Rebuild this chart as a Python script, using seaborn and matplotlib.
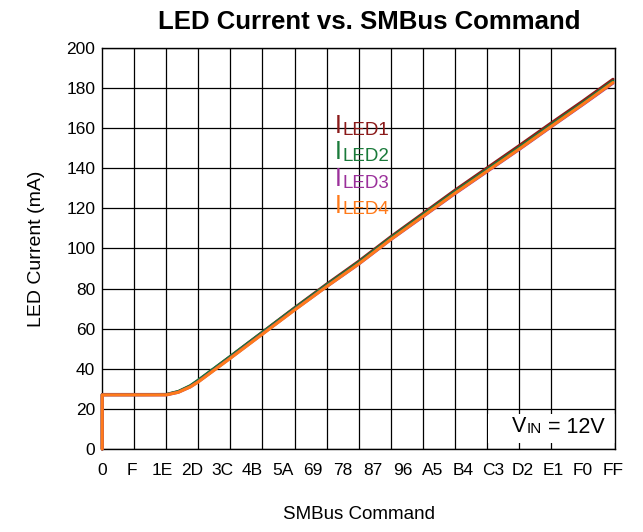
import matplotlib
matplotlib.use("Agg")
import matplotlib.pyplot as plt
from matplotlib.patches import Rectangle
import seaborn as sns
import pandas as pd

# SMBus command (decimal) and LED current (mA)
command = [0, 0, 16, 32, 38, 44, 48, 64, 80, 96, 112, 128, 144, 160, 176, 192, 208, 224, 240, 255]
iled1 = [0, 27.2, 27.2, 27.2, 28.6, 31.4, 34.2, 46.2, 58.3, 70.4, 82.2, 93.6, 105.8, 117.4, 129, 140.1, 151.2, 162.5, 173.6, 184.4]
iled2 = [0, 27.1, 27.1, 27.2, 28.7, 31.6, 34.4, 46.2, 58.2, 70.2, 81.8, 93.1, 105.3, 116.8, 128.3, 139.3, 150.3, 161.6, 172.7, 183.5]
iled3 = [0, 27, 27, 27, 28.3, 31, 33.6, 45.4, 57.4, 69.4, 81, 92.2, 104.4, 115.8, 127.3, 138.3, 149.3, 160.6, 171.8, 182.5]
iled4 = [0, 27, 27, 27, 28.3, 31, 33.5, 45.3, 57.3, 69.3, 81, 92.3, 104.5, 116, 127.5, 138.5, 149.5, 160.8, 172, 182.8]

series = ["ILED1", "ILED2", "ILED3", "ILED4"]
colors = ["#8b1a1a", "#1a7a3a", "#9b309b", "#ff7a1a"]
label_x = 116
label_y = [157.6, 144.5, 131.2, 117.9]

tick_vals = list(range(0, 256, 15))
tick_labels = ["0", "F", "1E", "2D", "3C", "4B", "5A", "69", "78", "87",
               "96", "A5", "B4", "C3", "D2", "E1", "F0", "FF"]

rows = []
for name, vals in zip(series, [iled1, iled2, iled3, iled4]):
    for x, y in zip(command, vals):
        rows.append({"cmd": x, "current": y, "led": name})
df = pd.DataFrame(rows)

sns.set_style("white")
plt.rcParams["font.family"] = ["Liberation Sans", "DejaVu Sans"]
plt.rcParams["text.color"] = "black"
plt.rcParams["axes.labelcolor"] = "black"
plt.rcParams["xtick.color"] = "black"
plt.rcParams["ytick.color"] = "black"

fig, ax = plt.subplots(figsize=(6.43, 5.32), dpi=100)
fig.subplots_adjust(left=0.159, right=0.9565, top=0.9098, bottom=0.156)

sns.lineplot(data=df, x="cmd", y="current", hue="led", units="led", estimator=None,
             sort=False, palette=colors, linewidth=2.2, legend=False, ax=ax,
             zorder=3, clip_on=False)

ax.set_xlim(0, 256)
ax.set_ylim(0, 200)
ax.set_xticks(tick_vals)
ax.set_xticklabels(tick_labels)
ax.set_xticks(range(0, 257, 16), minor=True)
ax.set_yticks(range(0, 201, 20))
ax.grid(False)
ax.grid(True, axis="x", which="minor", color="black", linewidth=0.9)
ax.grid(True, axis="y", which="major", color="black", linewidth=0.9)
ax.set_axisbelow(True)
for s in ax.spines.values():
    s.set_color("black")
    s.set_linewidth(1)
ax.tick_params(axis="x", which="major", labelsize=12.5, length=0, pad=10)
ax.tick_params(axis="x", which="minor", direction="in", length=4, color="black")
ax.tick_params(axis="y", labelsize=12.5, direction="in", length=4, color="black", pad=5)

ax.set_title("LED Current vs. SMBus Command", fontsize=18.5, fontweight="bold", pad=14, x=0.52)
ax.set_xlabel("SMBus Command", fontsize=13.5, labelpad=20)
ax.set_ylabel("LED Current (mA)", fontsize=14, labelpad=15)

# series labels: big "I" with smaller "LEDn" sitting slightly below its baseline
for name, c, ly in zip(series, colors, label_y):
    t = ax.text(label_x, ly, "I", color=c, fontsize=18, ha="left", va="baseline")
    ax.annotate(name[1:], xy=(1, 0), xycoords=t, xytext=(1, 2.4),
                textcoords="offset points", color=c, fontsize=13.5,
                ha="left", va="baseline")

ax.add_patch(Rectangle((0.752, 0.015), 0.248, 0.072, transform=ax.transAxes,
                       facecolor="white", edgecolor="none", zorder=1))
tv = ax.text(204.3, 8.3, "V", fontsize=15.5, ha="left", va="baseline", zorder=2)
tin = ax.annotate("IN", xy=(1, 0), xycoords=tv, xytext=(0.3, 3.3),
                  textcoords="offset points", fontsize=11, ha="left", va="baseline", zorder=2)
ax.annotate(" = 12V", xy=(1, 0), xycoords=tin, xytext=(0, 2.3),
            textcoords="offset points", fontsize=15.5, ha="left", va="baseline", zorder=2)

fig.savefig("out.png", dpi=100)
